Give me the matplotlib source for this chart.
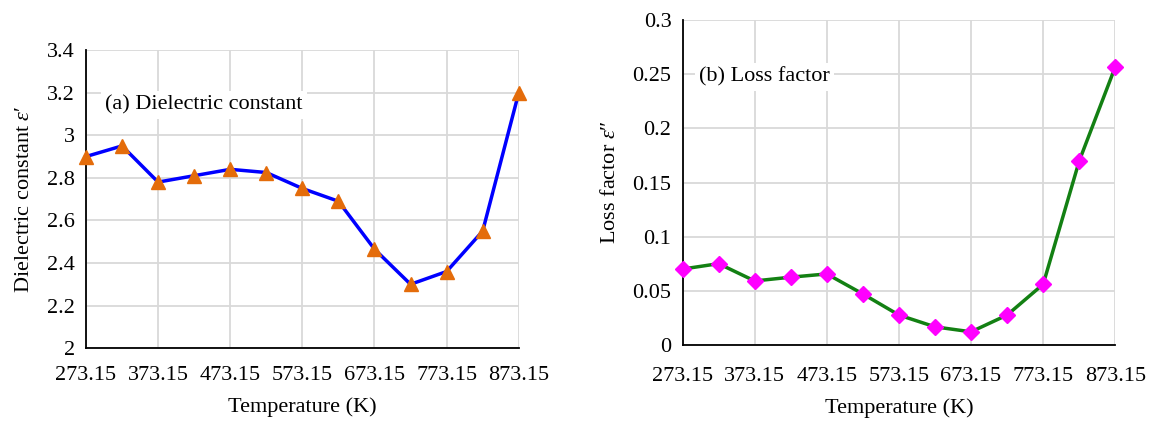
import matplotlib.pyplot as plt
import numpy as np

plt.rcParams["font.family"] = ["Liberation Serif", "DejaVu Serif"]
plt.rcParams["mathtext.fontset"] = "custom"
plt.rcParams["mathtext.rm"] = "Liberation Serif"
plt.rcParams["mathtext.it"] = "Liberation Serif:italic"

temperature = [273.15, 323.15, 373.15, 423.15, 473.15, 523.15, 573.15,
               623.15, 673.15, 723.15, 773.15, 823.15, 873.15]
dielectric_constant = [2.90, 2.95, 2.78, 2.81, 2.84, 2.825, 2.75,
                       2.69, 2.465, 2.30, 2.36, 2.55, 3.20]
loss_factor = [0.070, 0.075, 0.059, 0.0625, 0.0655, 0.047, 0.0275,
               0.0166, 0.012, 0.0275, 0.056, 0.170, 0.257]
x_ticks = [273.15, 373.15, 473.15, 573.15, 673.15, 773.15, 873.15]
eps_ticks = [2.0, 2.2, 2.4, 2.6, 2.8, 3.0, 3.2, 3.4]
loss_ticks = [0, 0.05, 0.1, 0.15, 0.2, 0.25, 0.3]

FS = 16


def style_axes(ax, yticks, xpad):
    ax.set_xlim(x_ticks[0], x_ticks[-1])
    ax.set_ylim(yticks[0], yticks[-1])
    ax.set_xticks(x_ticks)
    ax.set_xticklabels([f"{t:.2f}" for t in x_ticks])
    ax.set_yticks(yticks)
    ax.set_yticklabels([f"{t:g}" for t in yticks])
    ax.tick_params(length=0, labelsize=FS)
    ax.tick_params(axis="x", pad=xpad)
    ax.tick_params(axis="y", pad=8)
    ax.grid(True, color="#d9d9d9", linewidth=1.3)
    ax.set_axisbelow(True)
    for side in ("top", "right"):
        ax.spines[side].set_visible(False)
    for side in ("left", "bottom"):
        ax.spines[side].set_color("black")
        ax.spines[side].set_linewidth(1.3)
    ax.set_xlabel("Temperature (K)", fontsize=FS, labelpad=9)


fig = plt.figure(figsize=(11.51, 4.21), dpi=100)
ax1 = fig.add_axes([0.0747, 0.173, 0.376, 0.708])
ax2 = fig.add_axes([0.593, 0.181, 0.376, 0.771])

ax1.plot(temperature, dielectric_constant, color="#0000ff", linewidth=2.5,
         marker="^", markersize=10, markerfacecolor="#e46c0a",
         markeredgecolor="#e46c0a", clip_on=False, zorder=3)
style_axes(ax1, eps_ticks, 13)
ax1.set_ylabel("Dielectric constant $\\mathit{ε′}$", fontsize=FS, labelpad=9)
ax1.text(0.044, 0.815, "(a) Dielectric constant", transform=ax1.transAxes,
         fontsize=FS, va="center", ha="left",
         bbox=dict(facecolor="white", edgecolor="none", pad=3))

ax2.plot(temperature, loss_factor, color="#138013", linewidth=2.5,
         marker="D", markersize=8.5, markerfacecolor="#ff00ff",
         markeredgecolor="#ff00ff", clip_on=False, zorder=3)
style_axes(ax2, loss_ticks, 16)
ax2.set_ylabel("Loss factor $\\mathit{ε″}$", fontsize=FS, labelpad=9)
ax2.text(0.039, 0.825, "(b) Loss factor", transform=ax2.transAxes,
         fontsize=FS, va="center", ha="left",
         bbox=dict(facecolor="white", edgecolor="none", pad=3))

fig.savefig("out.png", dpi=100)
